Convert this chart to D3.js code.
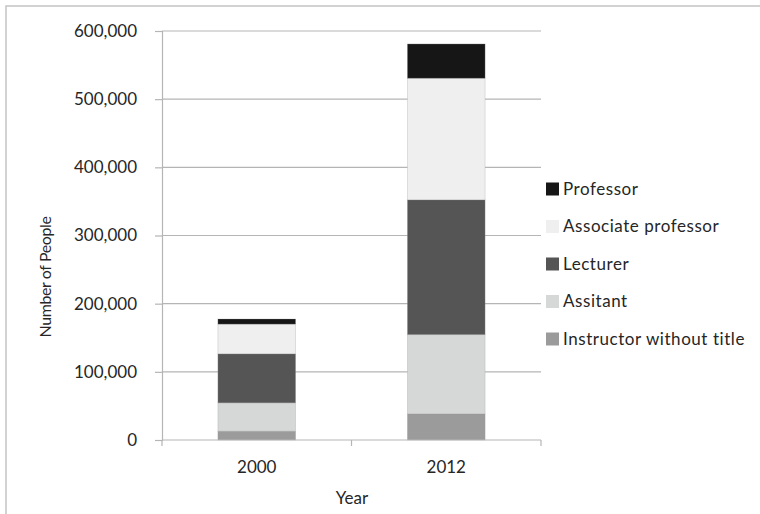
<!DOCTYPE html>
<html>
<head>
<meta charset="utf-8">
<script src="https://cdn.jsdelivr.net/npm/d3@7"></script>
<style>
  html, body { margin: 0; padding: 0; background: #fff; }
  svg { display: block; }
  text { font-family: Lato, "Open Sans", sans-serif; fill: #262626; }
</style>
</head>
<body>
<svg id="chart" width="760" height="514"></svg>
<script>
// Academic staff by title, stacked per year
const years = ["2000", "2012"];
const titles = ["Instructor without title", "Assitant", "Lecturer", "Associate professor", "Professor"];
const instructorWithoutTitle = [13000, 38400];
const assistant = [41500, 116200];
const lecturer = [72000, 197800];
const associateProfessor = [43500, 178300];
const professor = [7500, 50300];
const titleColors = ["#9b9b9b", "#d6d7d7", "#555555", "#efefef", "#161616"];
const yTicks = [0, 100000, 200000, 300000, 400000, 500000, 600000];

const seriesValues = [instructorWithoutTitle, assistant, lecturer, associateProfessor, professor];
const rows = years.map((y, i) => {
  const r = { year: y };
  titles.forEach((t, k) => { r[t] = seriesValues[k][i]; });
  return r;
});

const svg = d3.select("#chart");
const plot = { left: 162, right: 541, top: 31, bottom: 440 };

// chart frame (only top/left edges fall inside the view)
svg.append("rect")
  .attr("x", 6).attr("y", 6).attr("width", 800).attr("height", 600)
  .attr("fill", "none").attr("stroke", "#c4c4c4").attr("stroke-width", 1.5);

const x = d3.scaleBand().domain(years).range([plot.left, plot.right]).padding(0);
const y = d3.scaleLinear().domain([0, 600000]).range([plot.bottom, plot.top]);
const barW = x.bandwidth() * 0.41;

// horizontal gridlines
svg.append("g").selectAll("line").data(yTicks.filter(d => d > 0)).join("line")
  .attr("x1", plot.left).attr("x2", plot.right)
  .attr("y1", d => y(d)).attr("y2", d => y(d))
  .attr("stroke", "#b5b5b5").attr("stroke-width", 1.2);

// stacked bars
const stacked = d3.stack().keys(titles)(rows);
svg.append("g").selectAll("g").data(stacked).join("g")
  .attr("fill", (d, i) => titleColors[i])
  .selectAll("rect").data(d => d).join("rect")
  .attr("x", d => x(d.data.year) + (x.bandwidth() - barW) / 2)
  .attr("width", barW)
  .attr("y", d => y(d[1]))
  .attr("height", d => y(d[0]) - y(d[1]))
  .attr("stroke", "#9a9a9a").attr("stroke-opacity", 0.35).attr("stroke-width", 0.8);

// y axis
const yAxis = svg.append("g").attr("transform", `translate(${plot.left},0)`)
  .call(d3.axisLeft(y).tickValues(yTicks).tickFormat(d3.format(",")).tickSize(7).tickPadding(18));
yAxis.select(".domain").attr("stroke", "#b5b5b5").attr("stroke-width", 1.2);
yAxis.selectAll(".tick line").attr("stroke", "#b5b5b5").attr("stroke-width", 1.2);
yAxis.selectAll(".tick text").attr("font-size", 17).attr("fill", "#262626")
  .attr("font-family", "Lato, 'Open Sans', sans-serif");

// x axis with boundary ticks
const xAxisG = svg.append("g").attr("transform", `translate(0,${plot.bottom})`);
xAxisG.append("line").attr("x1", plot.left).attr("x2", plot.right)
  .attr("stroke", "#b5b5b5").attr("stroke-width", 1.2);
const bounds = years.map(d => x(d)).concat([x(years[years.length - 1]) + x.bandwidth()]);
xAxisG.selectAll("line.b").data(bounds).join("line").attr("class", "b")
  .attr("x1", d => d).attr("x2", d => d).attr("y1", 0).attr("y2", 6)
  .attr("stroke", "#b5b5b5").attr("stroke-width", 1.2);
xAxisG.selectAll("text").data(years).join("text")
  .attr("x", d => x(d) + x.bandwidth() / 2).attr("y", 33)
  .attr("text-anchor", "middle").attr("font-size", 17).text(d => d);

// axis titles
svg.append("text").attr("x", 352).attr("y", 504)
  .attr("text-anchor", "middle").attr("font-size", 17).text("Year");
svg.append("text").attr("transform", "translate(51,277) rotate(-90)")
  .attr("text-anchor", "middle").attr("font-size", 16).attr("letter-spacing", -0.4)
  .text("Number of People");

// legend, top entry is the top of the stack
const legendItems = titles.map((t, i) => ({ t, c: titleColors[i] })).reverse();
const lg = svg.append("g").attr("transform", "translate(546,189)");
const item = lg.selectAll("g").data(legendItems).join("g")
  .attr("transform", (d, i) => `translate(0,${i * 37.5})`);
item.append("rect").attr("x", 0).attr("y", -6.5).attr("width", 13).attr("height", 13)
  .attr("fill", d => d.c);
item.append("text").attr("x", 17).attr("y", 0).attr("dy", "0.35em")
  .attr("font-size", 17).attr("letter-spacing", 0.55).text(d => d.t);
</script>
</body>
</html>
